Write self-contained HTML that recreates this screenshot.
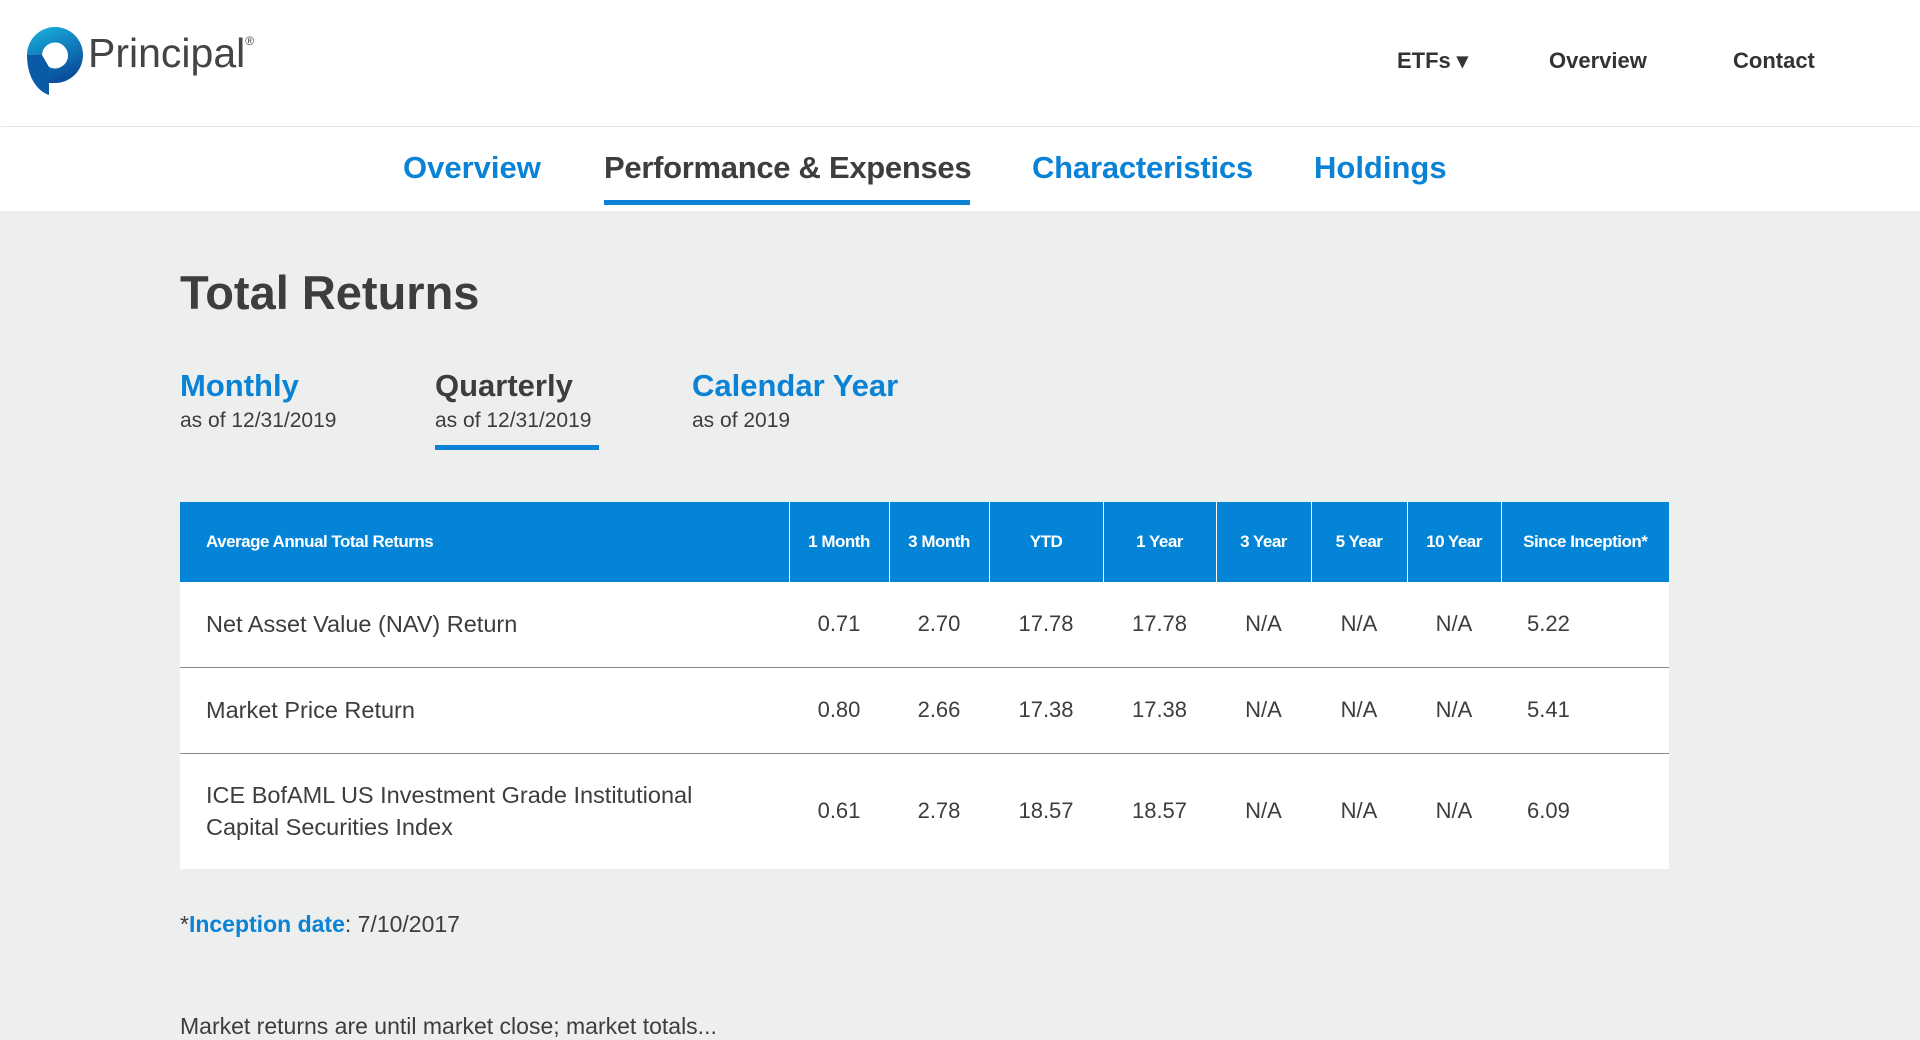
<!DOCTYPE html>
<html><head><meta charset="utf-8"><style>
*{margin:0;padding:0;box-sizing:border-box}
body{width:1920px;height:1022px;overflow:hidden;background:#edeeee;font-family:"Liberation Sans",sans-serif;color:#3d3d3d;position:relative}
.a{position:absolute;white-space:nowrap}
.hdr{position:absolute;left:0;top:0;width:1920px;height:126px;background:#fff;box-shadow:0 1px 3px rgba(0,0,0,0.06)}
.tabs{position:absolute;left:0;top:127px;width:1920px;height:84px;background:#fff}
.blue{color:#0a83d6}
table{position:absolute;left:180px;top:502px;width:1489px;border-collapse:collapse;background:#fff}
th{background:#0384d6;color:#fff;font-size:17px;font-weight:bold;height:80px;border-left:1px solid #fff;text-align:center;letter-spacing:-0.5px}
th:first-child{text-align:left;padding-left:26px;border-left:none}
td{font-size:22px;color:#3d3d3d;text-align:center;border-bottom:1px solid #888}
td:first-child{text-align:left;padding-left:26px;line-height:32px;font-size:23.5px}
tr:last-child td{border-bottom:none}
</style></head><body>
<div class="hdr"></div>
<svg class="a" style="left:27px;top:27px" width="56" height="68" viewBox="0 0 56 68">
<defs><linearGradient id="g" x1="0" y1="0" x2="0.4" y2="1"><stop offset="0" stop-color="#18b4e0"/><stop offset="1" stop-color="#0a4f9c"/></linearGradient></defs>
<path d="M28 0A28 28 0 0 1 28 56L22 56L22 40A13 13 0 1 0 15 28L0 28A28 28 0 0 1 28 0Z" fill="url(#g)"/>
<path d="M0 28L15 28L22 40L22 68C10 64 0 50 0 28Z" fill="#0a5aa8"/>
</svg>
<div class="a" style="left:88px;top:30px;font-size:41px;color:#444">Principal<sup style="font-size:12px;vertical-align:22px">®</sup></div>
<div class="a" style="left:1397px;top:48px;font-size:22px;font-weight:bold;color:#333">ETFs ▾</div>
<div class="a" style="left:1549px;top:48px;font-size:22px;font-weight:bold;color:#333">Overview</div>
<div class="a" style="left:1733px;top:48px;font-size:22px;font-weight:bold;color:#333">Contact</div>
<div class="tabs"></div>
<div class="a blue" style="left:403px;top:150px;font-size:31px;font-weight:bold">Overview</div>
<div class="a" style="left:604px;top:150px;font-size:31px;font-weight:bold;color:#3d3d3d;letter-spacing:-0.3px">Performance &amp; Expenses</div>
<div class="a" style="left:604px;top:200px;width:366px;height:5px;background:#0a83d6"></div>
<div class="a blue" style="left:1032px;top:150px;font-size:31px;font-weight:bold;letter-spacing:-0.2px">Characteristics</div>
<div class="a blue" style="left:1314px;top:150px;font-size:31px;font-weight:bold">Holdings</div>
<div class="a" style="left:180px;top:265px;font-size:47px;font-weight:bold;color:#3d3d3d">Total Returns</div>
<div class="a blue" style="left:180px;top:368px;font-size:31px;font-weight:bold">Monthly</div>
<div class="a" style="left:180px;top:409px;font-size:21px">as of 12/31/2019</div>
<div class="a" style="left:435px;top:368px;font-size:31px;font-weight:bold">Quarterly</div>
<div class="a" style="left:435px;top:409px;font-size:21px">as of 12/31/2019</div>
<div class="a" style="left:435px;top:445px;width:164px;height:5px;background:#0a83d6"></div>
<div class="a blue" style="left:692px;top:368px;font-size:31px;font-weight:bold">Calendar Year</div>
<div class="a" style="left:692px;top:409px;font-size:21px">as of 2019</div>
<table>
<tr><th style="width:609px">Average Annual Total Returns</th><th style="width:100px">1 Month</th><th style="width:100px">3 Month</th><th style="width:114px">YTD</th><th style="width:113px">1 Year</th><th style="width:95px">3 Year</th><th style="width:96px">5 Year</th><th style="width:94px">10 Year</th><th>Since Inception*</th></tr>
<tr style="height:85px"><td>Net Asset Value (NAV) Return</td><td>0.71</td><td>2.70</td><td>17.78</td><td>17.78</td><td>N/A</td><td>N/A</td><td>N/A</td><td style="text-align:left;padding-left:26px">5.22</td></tr>
<tr style="height:86px"><td>Market Price Return</td><td>0.80</td><td>2.66</td><td>17.38</td><td>17.38</td><td>N/A</td><td>N/A</td><td>N/A</td><td style="text-align:left;padding-left:26px">5.41</td></tr>
<tr style="height:116px"><td>ICE BofAML US Investment Grade Institutional<br>Capital Securities Index</td><td>0.61</td><td>2.78</td><td>18.57</td><td>18.57</td><td>N/A</td><td>N/A</td><td>N/A</td><td style="text-align:left;padding-left:26px">6.09</td></tr>
</table>
<div class="a" style="left:180px;top:911px;font-size:23px">*<span class="blue" style="font-weight:bold">Inception date</span>: 7/10/2017</div>
<div class="a" style="left:180px;top:1013px;font-size:23px">Market returns are until market close; market totals...</div>
</body></html>
